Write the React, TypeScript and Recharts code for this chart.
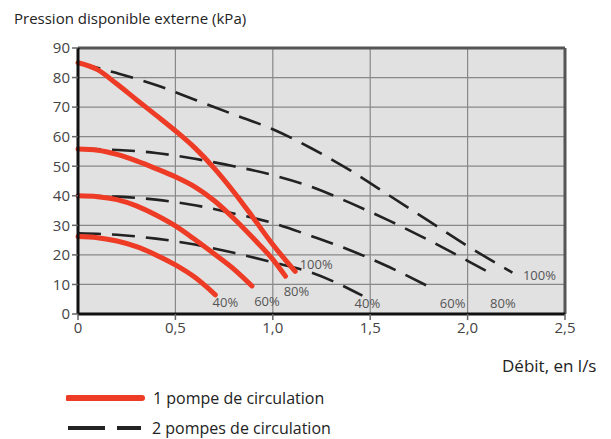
import React from 'react';
import {
  LineChart,
  Line,
  XAxis,
  YAxis,
  CartesianGrid,
  ReferenceLine,
} from 'recharts';

// débit (l/s) / pression (kPa)
const flowTicks = [0, 0.5, 1, 1.5, 2, 2.5];
const pressureTicks = [0, 10, 20, 30, 40, 50, 60, 70, 80, 90];

// 1 pompe de circulation
const single100 = [
  { x: 0, y: 85 }, { x: 0.1, y: 82.7 }, { x: 0.2, y: 77.8 }, { x: 0.3, y: 72.5 },
  { x: 0.4, y: 67.3 }, { x: 0.5, y: 62 }, { x: 0.6, y: 56.2 }, { x: 0.7, y: 49.3 },
  { x: 0.8, y: 41.3 }, { x: 0.9, y: 32.5 }, { x: 1.0, y: 23.5 }, { x: 1.115, y: 14.4 },
];
const single80 = [
  { x: 0, y: 55.8 }, { x: 0.1, y: 55.4 }, { x: 0.2, y: 54 }, { x: 0.3, y: 51.8 },
  { x: 0.4, y: 49.2 }, { x: 0.5, y: 46.4 }, { x: 0.6, y: 43 }, { x: 0.7, y: 38.3 },
  { x: 0.8, y: 32.3 }, { x: 0.9, y: 25.6 }, { x: 1.0, y: 18.5 }, { x: 1.065, y: 12.8 },
];
const single60 = [
  { x: 0, y: 40 }, { x: 0.1, y: 39.7 }, { x: 0.2, y: 38.7 }, { x: 0.3, y: 36.6 },
  { x: 0.4, y: 33.5 }, { x: 0.5, y: 29.8 }, { x: 0.6, y: 25.2 }, { x: 0.7, y: 20.3 },
  { x: 0.8, y: 15.2 }, { x: 0.893, y: 9.5 },
];
const single40 = [
  { x: 0, y: 26.2 }, { x: 0.1, y: 25.8 }, { x: 0.2, y: 24.7 }, { x: 0.3, y: 22.8 },
  { x: 0.4, y: 20 }, { x: 0.5, y: 16.6 }, { x: 0.6, y: 12.4 }, { x: 0.705, y: 6.5 },
];

// 2 pompes de circulation
const double100 = [
  { x: 0, y: 85 }, { x: 0.2, y: 81.5 }, { x: 0.4, y: 77.5 }, { x: 0.6, y: 72.5 },
  { x: 0.8, y: 67.5 }, { x: 1.0, y: 62.5 }, { x: 1.2, y: 56 }, { x: 1.4, y: 48.5 },
  { x: 1.6, y: 40 }, { x: 1.8, y: 31.5 }, { x: 2.0, y: 23 }, { x: 2.23, y: 14 },
];
const double80 = [
  { x: 0, y: 56 }, { x: 0.2, y: 55.5 }, { x: 0.4, y: 54.5 }, { x: 0.6, y: 52.5 },
  { x: 0.8, y: 50 }, { x: 1.0, y: 47 }, { x: 1.2, y: 43 }, { x: 1.4, y: 37.5 },
  { x: 1.6, y: 31.5 }, { x: 1.8, y: 25 }, { x: 2.0, y: 18 }, { x: 2.14, y: 13 },
];
const double60 = [
  { x: 0, y: 40 }, { x: 0.2, y: 39.7 }, { x: 0.4, y: 38.7 }, { x: 0.6, y: 36.8 },
  { x: 0.8, y: 34 }, { x: 1.0, y: 30.8 }, { x: 1.2, y: 26.3 }, { x: 1.4, y: 21.5 },
  { x: 1.6, y: 15.8 }, { x: 1.8, y: 9.3 },
];
const double40 = [
  { x: 0, y: 27.3 }, { x: 0.2, y: 26.8 }, { x: 0.4, y: 25.5 }, { x: 0.6, y: 23.5 },
  { x: 0.8, y: 20.7 }, { x: 1.0, y: 17.5 }, { x: 1.2, y: 14 }, { x: 1.46, y: 6.2 },
];

const RED = '#ee3b25';
const DASH = '#222';
const FONT = '"Open Sans", sans-serif';

const fmtFlow = (v: number) => (v === 0 ? '0' : v.toFixed(1).replace('.', ','));

// label drawn only at the last point of a curve
function endLabel(text: string, count: number, dx: number, dy: number) {
  return (props: any) => {
    if (props.index !== count - 1) return null;
    return (
      <text
        x={props.x + dx}
        y={props.y + dy}
        textAnchor="middle"
        dominantBaseline="central"
        fontSize={13}
        fontFamily={FONT}
        fill="#555"
      >
        {text}
      </text>
    );
  };
}

const dashedSeries = [
  { key: 'd40', data: double40, label: '40%', dx: 5, dy: 7 },
  { key: 'd60', data: double60, label: '60%', dx: 24, dy: 16 },
  { key: 'd80', data: double80, label: '80%', dx: 8, dy: 27 },
  { key: 'd100', data: double100, label: '100%', dx: 27, dy: 2 },
];

const solidSeries = [
  { key: 's40', data: single40, label: '40%', dx: 10, dy: 7 },
  { key: 's60', data: single60, label: '60%', dx: 15, dy: 15 },
  { key: 's80', data: single80, label: '80%', dx: 11, dy: 15 },
  { key: 's100', data: single100, label: '100%', dx: 21, dy: -7 },
];

export default function App() {
  return (
    <div style={{ position: 'absolute', left: 0, top: 0, width: 611, height: 439, background: '#fff', fontFamily: FONT }}>
      <div style={{ position: 'absolute', left: 14, top: 8, fontSize: 15, color: '#222', whiteSpace: 'nowrap' }}>
        Pression disponible externe (kPa)
      </div>
      <LineChart
        width={611}
        height={439}
        margin={{ top: 48, right: 46, bottom: 95, left: 0 }}
      >
        <CartesianGrid
          stroke="#888"
          strokeWidth={1.2}
          fill="#e1e1e1"
          horizontalValues={pressureTicks}
          verticalValues={flowTicks}
        />
        <XAxis
          type="number"
          dataKey="x"
          domain={[0, 2.5]}
          ticks={flowTicks}
          tickFormatter={fmtFlow}
          axisLine={{ stroke: '#111', strokeWidth: 3 }}
          tickLine={{ stroke: '#666', strokeWidth: 1.5 }}
          tickSize={6}
          tick={{ fontSize: 15, fill: '#444', fontFamily: FONT }}
          height={30}
          allowDuplicatedCategory={false}
        />
        <YAxis
          type="number"
          domain={[0, 90]}
          ticks={pressureTicks}
          axisLine={{ stroke: '#111', strokeWidth: 3 }}
          tickLine={{ stroke: '#666', strokeWidth: 1.5 }}
          tickSize={6}
          tickMargin={2}
          tick={{ fontSize: 15, fill: '#444', fontFamily: FONT }}
          width={78}
        />
        <ReferenceLine y={90} stroke="#555" strokeWidth={3} />
        <ReferenceLine x={2.5} stroke="#555" strokeWidth={3} />
        {dashedSeries.map((s) => (
          <Line
            key={s.key}
            data={s.data}
            dataKey="y"
            type="monotone"
            stroke={DASH}
            strokeWidth={2.6}
            strokeDasharray="23 11"
            dot={false}
            activeDot={false}
            isAnimationActive={false}
            label={endLabel(s.label, s.data.length, s.dx, s.dy)}
          />
        ))}
        {solidSeries.map((s) => (
          <Line
            key={s.key}
            data={s.data}
            dataKey="y"
            type="monotone"
            stroke={RED}
            strokeWidth={5}
            strokeLinecap="round"
            dot={false}
            activeDot={false}
            isAnimationActive={false}
            label={endLabel(s.label, s.data.length, s.dx, s.dy)}
          />
        ))}
      </LineChart>
      <div style={{ position: 'absolute', left: 502, top: 354, fontSize: 17, lineHeight: '23px', color: '#222', whiteSpace: 'nowrap' }}>
        Débit, en l/s
      </div>
      <div style={{ position: 'absolute', left: 66, top: 389, fontSize: 16, lineHeight: '18px', color: '#222', whiteSpace: 'nowrap' }}>
        <div style={{ display: 'flex', alignItems: 'center', height: 18 }}>
          <svg width={82} height={10}>
            <line x1={2} y1={5} x2={76} y2={5} stroke={RED} strokeWidth={6} strokeLinecap="round" />
          </svg>
          <span style={{ marginLeft: 5 }}>1 pompe de circulation</span>
        </div>
        <div style={{ display: 'flex', alignItems: 'center', height: 18, marginTop: 12 }}>
          <svg width={82} height={10}>
            <line x1={2} y1={5} x2={39} y2={5} stroke={DASH} strokeWidth={4} />
            <line x1={51} y1={5} x2={75} y2={5} stroke={DASH} strokeWidth={4} />
          </svg>
          <span style={{ marginLeft: 4 }}>2 pompes de circulation</span>
        </div>
      </div>
    </div>
  );
}
